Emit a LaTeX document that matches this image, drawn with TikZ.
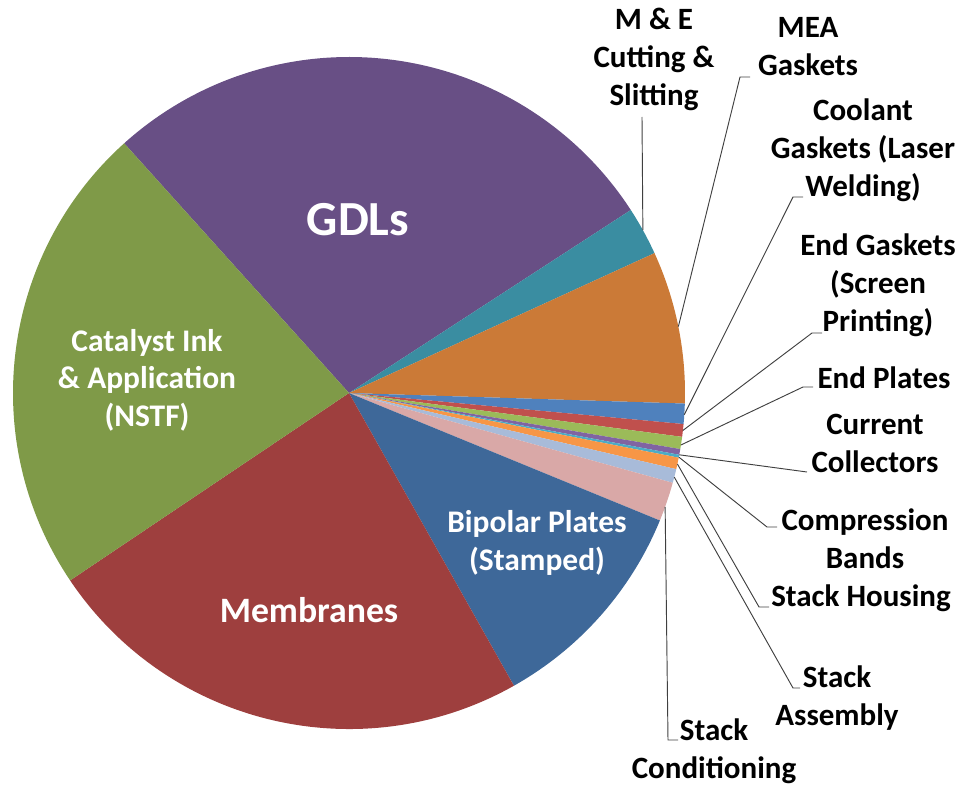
\documentclass[tikz,border=0pt]{standalone}
\usepackage{fontspec}
\setmainfont{Carlito}
\usetikzlibrary{positioning}
\definecolor{gdl}{HTML}{684F85}
\definecolor{mecut}{HTML}{3A8DA1}
\definecolor{meagsk}{HTML}{CB7A37}
\definecolor{coolgsk}{HTML}{4F81BD}
\definecolor{endgsk}{HTML}{C0504D}
\definecolor{endplt}{HTML}{9BBB59}
\definecolor{curcol}{HTML}{8064A2}
\definecolor{compbnd}{HTML}{4BACC6}
\definecolor{stkhous}{HTML}{F79646}
\definecolor{stkasm}{HTML}{A8BBD9}
\definecolor{stkcond}{HTML}{D9A8A7}
\definecolor{bipolar}{HTML}{3E6899}
\definecolor{membr}{HTML}{9E3F3E}
\definecolor{catal}{HTML}{7F9A48}
\tikzset{
  inlbl/.style={text=white, font=\bfseries\fontsize{23.6}{28.2}\selectfont, align=center, inner sep=0pt},
  outlbl/.style={text=black, font=\bfseries\fontsize{23.25}{28.5}\selectfont, align=center, inner sep=0pt},
  leader/.style={draw=black!75, line width=0.7pt},
}

\begin{document}
\begin{tikzpicture}[x=0.75pt, y=0.75pt]
  \useasboundingbox (-349,-393) rectangle (610,393);
  % slices, clockwise from the GDL edge
  \foreach \a/\b/\c in {132/33/gdl, 33/24.6/mecut, 24.6/-1.8/meagsk, -1.8/-5.3/coolgsk,
      -5.3/-7.5/endgsk, -7.5/-9.6/endplt, -9.6/-10.6/curcol, -10.6/-11.1/compbnd,
      -11.1/-13.1/stkhous, -13.1/-15.5/stkasm, -15.5/-22.3/stkcond, -22.3/-60.6/bipolar,
      -60.6/-146.1/membr, -146.1/-228/catal} {
    \fill[\c] (0,0) -- (\a:336) arc[start angle=\a, end angle=\b, radius=336] -- cycle;
  }
  % labels inside the pie
  \node[inlbl, font=\bfseries\fontsize{36.75}{40}\selectfont] (gdls) at (9,173) {GDLs};
  \node[inlbl] (catalyst) at (-202,13) {Catalyst Ink\\\& Application\\(NSTF)};
  \node[inlbl, font=\bfseries\fontsize{26.8}{30}\selectfont] (membranes) at (-40,-217) {Membranes};
  \node[inlbl] (bipolar) at (188,-150) {Bipolar Plates\\(Stamped)};
  % labels outside the pie
  \node[outlbl] (mecut) at (305,334) {M \& E\\Cutting \&\\Slitting};
  \node[outlbl] (meagsk) at (459,346) {MEA\\Gaskets};
  \node[outlbl] (coolgsk) at (514,243) {Coolant\\Gaskets (Laser\\Welding)};
  \node[outlbl] (endgsk) at (529,108) {End Gaskets\\(Screen\\Printing)};
  \node[outlbl] (endplt) at (535,15) {End Plates};
  \node[outlbl] (curcol) at (526,-50) {Current\\Collectors};
  \node[outlbl] (compbnd) at (516,-146) {Compression\\Bands};
  \node[outlbl] (stkhous) at (512,-205) {Stack Housing};
  \node[outlbl] (stkasm) at (488,-305) {Stack\\Assembly};
  \node[outlbl] (stkcond) at (365,-358) {Stack\\Conditioning};
  % leader lines: rim point, bend, short tail
  \foreach \n/\a/\kx/\ky/\tx in {meagsk/11.4/391/316/401, coolgsk/-3.7/444/196/454,
      endgsk/-6.4/463/60/473, endplt/-8.9/454/6/464, compbnd/-11/418/-134/428,
      stkhous/-12.2/410/-214/420, stkasm/-14.5/444/-295/451, stkcond/-19.8/319/-347/329} {
    \coordinate (r\n) at (\a:336);
    \coordinate (k\n) at (\kx,\ky);
    \coordinate (t\n) at (\tx,\ky);
    \draw[leader] (r\n) -- (k\n) -- (t\n);
  }
  \coordinate (rmecut) at (29:336);
  \coordinate (kmecut) at (293,276);
  \draw[leader] (rmecut) -- (kmecut);
  \coordinate (rcurcol) at (-10.6:336);
  \coordinate (kcurcol) at (458,-79);
  \draw[leader] (rcurcol) -- (kcurcol);
\end{tikzpicture}
\end{document}
